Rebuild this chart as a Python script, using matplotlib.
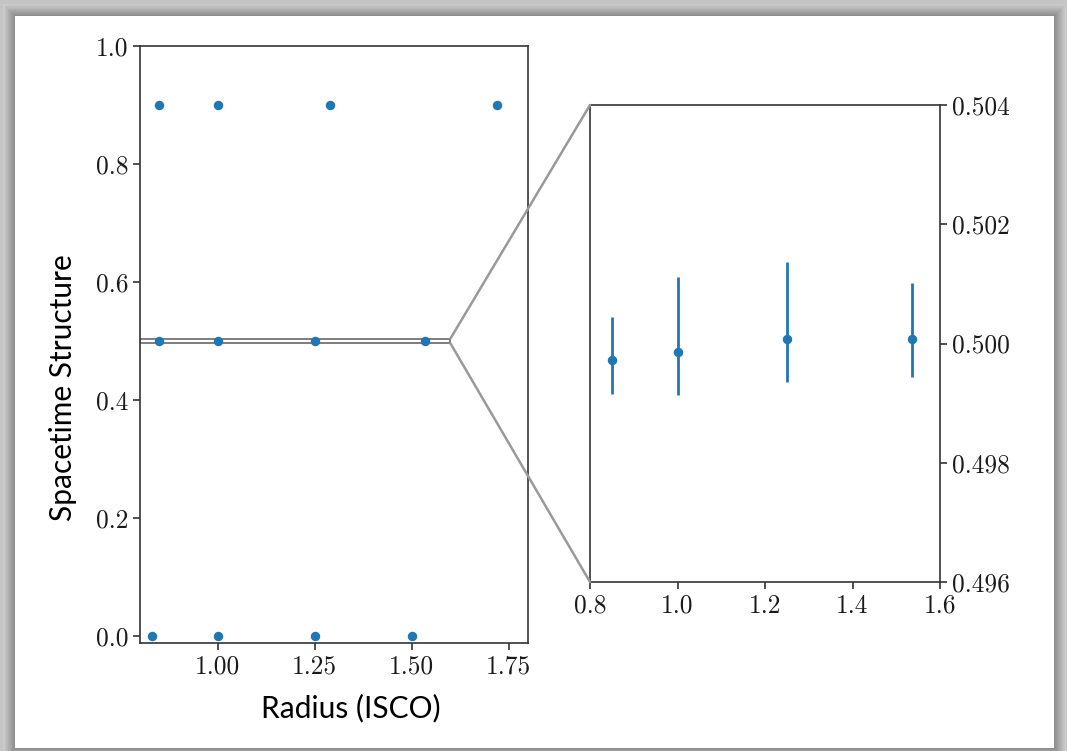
import numpy as np
import matplotlib
matplotlib.use("Agg")
import matplotlib.pyplot as plt
from matplotlib.patches import Rectangle, ConnectionPatch

# datos del panel izquierdo (tres niveles de estructura)
r_top = [0.85, 1.00, 1.29, 1.72]
s_top = [0.9, 0.9, 0.9, 0.9]
r_mid = [0.85, 1.00, 1.25, 1.535]
s_mid = [0.5, 0.5, 0.5, 0.5]
r_low = [0.83, 1.00, 1.25, 1.50]
s_low = [0.0, 0.0, 0.0, 0.0]

# datos del zoom (nivel 0.5 con barras de error)
zoom_val = [0.49973, 0.49985, 0.50008, 0.50007]
zoom_err_low = [0.00057, 0.00071, 0.00072, 0.00064]
zoom_err_high = [0.00071, 0.00126, 0.00128, 0.00094]

left_xticks = [1.00, 1.25, 1.50, 1.75]
left_yticks = [0.0, 0.2, 0.4, 0.6, 0.8, 1.0]
right_xticks = [0.8, 1.0, 1.2, 1.4, 1.6]
right_yticks = [0.496, 0.498, 0.500, 0.502, 0.504]

blue = "#1f77b4"
tick_col = "#1a1a1a"
W, H = 1067, 751

plt.rcParams["font.family"] = "cmr10"
plt.rcParams["axes.formatter.use_mathtext"] = True

fig = plt.figure(figsize=(W / 100, H / 100), dpi=100)
fig.patch.set_facecolor("#c4c4c4")

# fondo tipo diapositiva con sombra
bg = fig.add_axes([0, 0, 1, 1], zorder=-10)
bg.set_xlim(0, W)
bg.set_ylim(H, 0)
bg.axis("off")
for i in range(12, 0, -1):
    g = 0.80 - 0.022 * (12 - i)
    bg.add_patch(Rectangle((15 - i, 16 - i), 1039 + 2 * i, 732 + 2 * i,
                           facecolor=str(g), edgecolor="none"))
bg.add_patch(Rectangle((15, 16), 1039, 732, facecolor="white", edgecolor="none"))

# panel izquierdo
ax = fig.add_axes([140 / W, 1 - 643 / H, 388 / W, 597 / H])
ax.plot(r_top, s_top, "o", color=blue, ms=5.8)
ax.plot(r_mid, s_mid, "o", color=blue, ms=5.8)
ax.plot(r_low, s_low, "o", color=blue, ms=5.8)
ax.set_xlim(0.8, 1.8)
ax.set_ylim(-0.012, 1.0)
ax.set_xticks(left_xticks)
ax.set_xticklabels(["%.2f" % v for v in left_xticks])
ax.set_yticks(left_yticks)
ax.set_yticklabels(["%.1f" % v for v in left_yticks])
ax.set_xlabel("Radius (ISCO)", family="Lato", fontsize=21.5)
ax.set_ylabel("Spacetime Structure", family="Lato", fontsize=21.5)
ax.xaxis.set_label_coords(0.544, -0.085)
ax.yaxis.set_label_coords(-0.163, 0.427)

# panel de zoom
axz = fig.add_axes([590 / W, 1 - 582 / H, 350 / W, 477 / H])
axz.errorbar(r_mid, zoom_val, yerr=[zoom_err_low, zoom_err_high], fmt="o",
             color=blue, ms=5.8, lw=2, capsize=0)
axz.set_xlim(0.8, 1.6)
axz.set_ylim(0.496, 0.504)
axz.set_xticks(right_xticks)
axz.set_xticklabels(["%.1f" % v for v in right_xticks])
axz.set_yticks(right_yticks)
axz.set_yticklabels(["%.3f" % v for v in right_yticks])
axz.yaxis.tick_right()

for a in (ax, axz):
    for sp in a.spines.values():
        sp.set_color("#333333")
        sp.set_linewidth(1.2)
    a.tick_params(labelsize=18.3, colors="#333333", labelcolor=tick_col,
                  length=5, width=1.2)

# rectangulo del zoom y lineas de conexion
x0, x1 = axz.get_xlim()
y0, y1 = axz.get_ylim()
ax.add_patch(Rectangle((x0, y0), x1 - x0, y1 - y0, facecolor="none",
                       edgecolor="0.45", lw=1.3, zorder=1))
for ya, yb in ((1, y1), (0, y0)):
    con = ConnectionPatch(xyA=(0, ya), coordsA=axz.transAxes,
                          xyB=(x1, yb), coordsB=ax.transData,
                          color="0.6", lw=1.8)
    fig.add_artist(con)

plt.savefig("out.png", dpi=100)
